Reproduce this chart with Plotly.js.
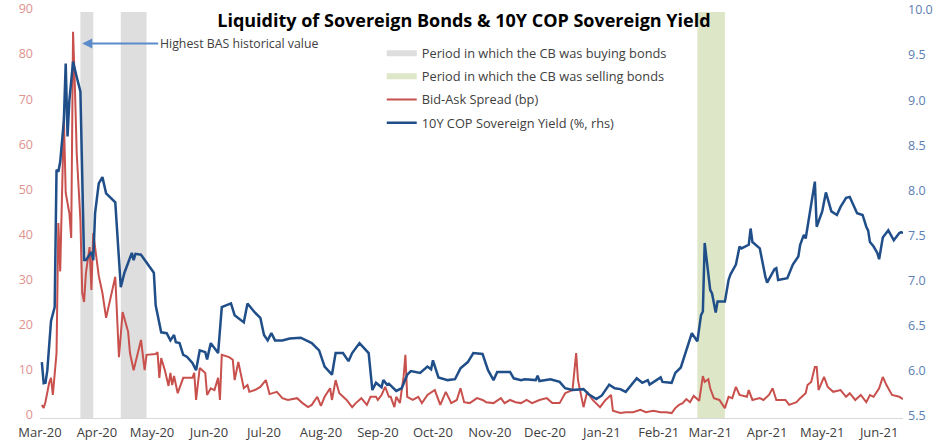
<!DOCTYPE html>
<html>
<head>
<meta charset="utf-8">
<script src="https://cdn.plot.ly/plotly-3.0.1.min.js"></script>
<style>html,body{margin:0;padding:0;background:#fff;}#chart{width:941px;height:445px;}</style>
</head>
<body>
<div id="chart"></div>
<script>
// ---- Data ----
const buyStart = ['2020-03-23', '2020-04-14'];
const buyEnd   = ['2020-03-30', '2020-04-28'];
const sellStart = ['2021-02-22'];
const sellEnd   = ['2021-03-09'];

const yieldDates = [
'2020-03-02','2020-03-03','2020-03-04','2020-03-05','2020-03-07','2020-03-09','2020-03-10','2020-03-11','2020-03-12','2020-03-14','2020-03-15','2020-03-16','2020-03-17','2020-03-19','2020-03-21','2020-03-23','2020-03-25','2020-03-26','2020-03-29','2020-03-30','2020-03-31',
'2020-04-02','2020-04-04','2020-04-06','2020-04-11','2020-04-14','2020-04-16','2020-04-20','2020-04-21','2020-04-22','2020-04-25','2020-04-28',
'2020-05-02','2020-05-03','2020-05-06','2020-05-09','2020-05-11','2020-05-13','2020-05-14','2020-05-16','2020-05-18','2020-05-20','2020-05-23','2020-05-25','2020-05-27','2020-05-30','2020-05-31',
'2020-06-02','2020-06-04','2020-06-06','2020-06-08','2020-06-11','2020-06-13','2020-06-15','2020-06-20','2020-06-22','2020-06-26','2020-06-29',
'2020-07-01','2020-07-03','2020-07-05','2020-07-07','2020-07-11','2020-07-15','2020-07-21','2020-07-27','2020-07-31',
'2020-08-03','2020-08-07','2020-08-09','2020-08-13','2020-08-16','2020-08-18','2020-08-22','2020-08-27','2020-08-29','2020-08-31',
'2020-09-03','2020-09-04','2020-09-06','2020-09-07','2020-09-11','2020-09-14','2020-09-17','2020-09-19','2020-09-24','2020-09-28','2020-09-30',
'2020-10-01','2020-10-04','2020-10-09','2020-10-13','2020-10-16','2020-10-20','2020-10-23','2020-10-28','2020-10-31',
'2020-11-03','2020-11-05','2020-11-09','2020-11-12','2020-11-14','2020-11-18','2020-11-20','2020-11-26','2020-11-27','2020-11-28',
'2020-12-04','2020-12-09','2020-12-12','2020-12-16','2020-12-22','2020-12-25','2020-12-29',
'2021-01-01','2021-01-05','2021-01-08','2021-01-11','2021-01-14','2021-01-20','2021-01-23','2021-01-26','2021-01-27',
'2021-02-02','2021-02-03','2021-02-08','2021-02-10','2021-02-13','2021-02-16','2021-02-19','2021-02-22','2021-02-24','2021-02-25','2021-02-26',
'2021-03-01','2021-03-02','2021-03-04','2021-03-05','2021-03-09','2021-03-11','2021-03-12','2021-03-15','2021-03-17','2021-03-18','2021-03-22','2021-03-23','2021-03-24','2021-03-28','2021-03-31',
'2021-04-01','2021-04-05','2021-04-06','2021-04-07','2021-04-12','2021-04-15','2021-04-18','2021-04-19','2021-04-21','2021-04-22','2021-04-24','2021-04-27','2021-04-28',
'2021-05-01','2021-05-03','2021-05-06','2021-05-09','2021-05-11','2021-05-14','2021-05-16','2021-05-20','2021-05-23','2021-05-25','2021-05-26','2021-05-27','2021-05-29','2021-05-31',
'2021-06-01','2021-06-03','2021-06-04','2021-06-06','2021-06-09','2021-06-12','2021-06-13','2021-06-14'
];
const yieldValues = [
6.12,5.885,5.89,6.03,6.575,6.73,8.25,8.23,8.34,8.80,9.43,8.62,9.02,9.45,9.28,9.12,7.25,7.25,7.34,7.25,7.77,
8.10,8.17,7.99,7.89,6.95,7.11,7.33,7.25,7.32,7.31,7.22,
7.11,6.75,6.45,6.44,6.36,6.42,6.34,6.33,6.20,6.18,6.11,6.03,6.25,6.23,6.15,
6.33,6.28,6.22,6.73,6.75,6.77,6.64,6.56,6.77,6.67,6.61,
6.42,6.36,6.44,6.36,6.36,6.38,6.39,6.33,6.25,
6.07,5.98,6.22,6.22,6.13,6.22,6.33,6.22,5.81,5.89,
5.84,5.92,5.87,5.88,5.80,5.83,5.98,6.02,6.00,6.07,6.04,
6.14,5.95,5.92,5.93,6.05,6.12,6.22,6.21,6.03,
5.92,6.01,6.01,6.01,5.94,5.92,5.93,5.92,5.97,5.91,
5.93,5.90,5.83,5.81,5.82,5.76,5.71,
5.75,5.87,5.83,5.82,5.79,5.94,5.89,5.92,5.87,
5.95,5.90,5.89,6.00,6.06,6.26,6.44,6.35,6.64,6.68,7.44,
6.92,6.88,6.67,6.79,6.79,7.03,7.09,7.20,7.40,7.38,7.42,7.60,7.45,7.38,7.07,
7.00,7.15,7.16,7.03,7.05,7.20,7.29,7.42,7.53,7.49,7.73,8.12,7.62,
7.79,8.00,7.79,7.75,7.84,7.94,7.95,7.77,7.75,7.62,7.58,7.45,7.40,7.33,
7.26,7.50,7.53,7.58,7.47,7.55,7.56,7.55
];

const basDates = [
'2020-03-02','2020-03-03','2020-03-04','2020-03-06','2020-03-07','2020-03-08','2020-03-10','2020-03-11','2020-03-12','2020-03-14','2020-03-15','2020-03-17','2020-03-18','2020-03-19','2020-03-20','2020-03-21','2020-03-23','2020-03-24','2020-03-25','2020-03-26','2020-03-28','2020-03-29','2020-03-30',
'2020-04-01','2020-04-02','2020-04-04','2020-04-06','2020-04-11','2020-04-13','2020-04-15','2020-04-18','2020-04-19','2020-04-21','2020-04-25','2020-04-27','2020-04-28',
'2020-05-03','2020-05-04','2020-05-05','2020-05-06','2020-05-08','2020-05-10','2020-05-11','2020-05-12','2020-05-13','2020-05-15','2020-05-18','2020-05-23','2020-05-24','2020-05-25','2020-05-27','2020-05-30','2020-05-31',
'2020-06-02','2020-06-04','2020-06-06','2020-06-07','2020-06-08','2020-06-12','2020-06-14','2020-06-15','2020-06-17','2020-06-20','2020-06-22','2020-06-23','2020-06-26','2020-06-29',
'2020-07-02','2020-07-04','2020-07-08','2020-07-11','2020-07-14','2020-07-19','2020-07-22','2020-07-25','2020-07-27','2020-07-30',
'2020-08-01','2020-08-03','2020-08-06','2020-08-07','2020-08-09','2020-08-11','2020-08-15','2020-08-18','2020-08-20','2020-08-23','2020-08-26','2020-08-28','2020-08-31',
'2020-09-01','2020-09-03','2020-09-05','2020-09-07','2020-09-08','2020-09-10','2020-09-11','2020-09-13','2020-09-15','2020-09-16','2020-09-17','2020-09-20','2020-09-23','2020-09-25','2020-09-28',
'2020-10-02','2020-10-05','2020-10-08','2020-10-11','2020-10-14','2020-10-16','2020-10-18','2020-10-21','2020-10-25','2020-10-28','2020-10-30',
'2020-11-03','2020-11-07','2020-11-09','2020-11-12','2020-11-15','2020-11-18','2020-11-21','2020-11-24','2020-11-28',
'2020-12-02','2020-12-05','2020-12-09','2020-12-12','2020-12-16','2020-12-18','2020-12-19','2020-12-22','2020-12-24','2020-12-27','2020-12-31',
'2021-01-03','2021-01-06','2021-01-07','2021-01-11','2021-01-14','2021-01-18','2021-01-22','2021-01-25','2021-01-29',
'2021-02-02','2021-02-05','2021-02-08','2021-02-10','2021-02-12','2021-02-14','2021-02-16','2021-02-18','2021-02-20','2021-02-23','2021-02-25','2021-02-26','2021-02-28',
'2021-03-01','2021-03-03','2021-03-06','2021-03-09','2021-03-11','2021-03-13','2021-03-15','2021-03-17','2021-03-21','2021-03-22','2021-03-24','2021-03-28','2021-03-30',
'2021-04-02','2021-04-04','2021-04-06','2021-04-11','2021-04-13','2021-04-17','2021-04-19','2021-04-22','2021-04-23','2021-04-25','2021-04-27','2021-04-28','2021-04-29',
'2021-05-02','2021-05-04','2021-05-07','2021-05-11','2021-05-14','2021-05-16','2021-05-19','2021-05-22','2021-05-25','2021-05-27','2021-05-29',
'2021-06-01','2021-06-03','2021-06-05','2021-06-08','2021-06-12','2021-06-14'
];
const basValues = [
2.9,2.2,3.6,7.8,8.9,5.1,14.4,43.2,32.5,66.7,49.9,45.4,39.9,85.6,73.4,58.7,43.9,27.7,25.7,32.1,37.9,28.4,41,
33.7,31.5,27.7,22.2,31.3,13.5,23.5,19.1,14.4,10.6,17.3,10.6,14,
14.2,14.6,8.9,13.3,10.6,7.1,10,7.3,9.3,5.5,8.9,8.9,10,4,11.1,10,5.1,
6.6,6.2,8.9,4,14,13.5,12.9,8.4,12.4,6.6,7.3,5.8,6.2,6.9,
8.4,5.3,5.8,4.4,4,4.4,3.3,2.4,2.9,4.7,
2.7,4.7,6.6,4,8.4,5.5,4,2.4,3.3,4.4,2.9,4.7,4.7,
4,5.1,6.9,4.7,4.7,2.4,4.7,3.3,9.1,14,4.7,4,4.7,3.3,5.1,
6.2,2.9,5.8,3.3,4,6.6,3.5,3.3,4.4,4,3.5,
3.3,4.4,3.3,4,3.5,3.3,4,3.3,4,
4.4,3.3,3.3,5.5,6.2,14.4,8.4,2.4,5.8,4,2.4,
4,5.1,1.6,1.1,1.3,1.3,1.8,1.3,1.6,
1.3,1.3,1.1,2.2,2.9,3.3,4.2,3.5,4.9,3.8,9.3,8,8.6,
6.6,4.4,4,2.2,4.7,4.4,6.9,5.1,4.7,6.2,4,4.4,4,
5.1,6.6,4,4,2.9,3.5,4.4,5.5,7.3,8,11.3,11.3,6.2,
9.1,6.9,5.8,6.2,4.7,5.5,4,5.1,3.5,5.1,4.7,
6.6,9.1,7.3,5.1,4.7,4.2
];

const leftRange = [0, 90];
const rightRange = [5.5, 10];
const xRange = ['2020-03-01', '2021-06-14'];

const peakDate = '2020-03-24';
const peakLabelLevel = 83;

// ---- Build traces ----
function bandPolygon(starts, ends, lo, hi) {
  const xs = [], ys = [];
  starts.forEach((s, i) => {
    if (i > 0) { xs.push(null); ys.push(null); }
    xs.push(s, s, ends[i], ends[i], s);
    ys.push(lo, hi, hi, lo, lo);
  });
  return {xs, ys};
}
const buyPoly = bandPolygon(buyStart, buyEnd, leftRange[0], leftRange[1]);
const sellPoly = bandPolygon(sellStart, sellEnd, leftRange[0], leftRange[1]);

const FONT = 'Open Sans, DejaVu Sans, sans-serif';

const traces = [
  {x: buyPoly.xs, y: buyPoly.ys, type: 'scatter', mode: 'none', fill: 'toself',
   fillcolor: '#DEDEDE', name: 'Period in which the CB was buying bonds', hoverinfo: 'skip', legendgroup: 'a'},
  {x: sellPoly.xs, y: sellPoly.ys, type: 'scatter', mode: 'none', fill: 'toself',
   fillcolor: '#DDE7C8', name: 'Period in which the CB was selling bonds', hoverinfo: 'skip', legendgroup: 'b'},
  {x: basDates, y: basValues, type: 'scatter', mode: 'lines', name: 'Bid-Ask Spread (bp)',
   line: {color: '#C8504D', width: 2}, legendgroup: 'c'},
  {x: yieldDates, y: yieldValues, type: 'scatter', mode: 'lines', name: '10Y COP Sovereign Yield (%, rhs)',
   yaxis: 'y2', line: {color: '#1F4E89', width: 2.5}, legendgroup: 'd'}
];

const layout = {
  width: 941, height: 445,
  margin: {l: 40, r: 38, t: 12, b: 27},
  paper_bgcolor: '#fff', plot_bgcolor: '#fff',
  font: {family: FONT, color: '#404040'},
  title: {text: '<b>Liquidity of Sovereign Bonds & 10Y COP Sovereign Yield</b>',
          font: {family: FONT, size: 18, color: '#000'},
          x: 0.493, xref: 'container', xanchor: 'center', y: 0.953, yref: 'container', yanchor: 'middle'},
  showlegend: true,
  legend: {x: 0.396, y: 0.935, xanchor: 'left', yanchor: 'top', bgcolor: 'rgba(0,0,0,0)',
           font: {family: FONT, size: 12.8, color: '#404040'}, traceorder: 'grouped', tracegroupgap: 3.5},
  xaxis: {type: 'date', range: xRange, tickformat: '%b-%y', dtick: 'M1', tick0: '2020-03-01',
          showgrid: false, zeroline: false, showline: true, linecolor: '#D9D9D9', linewidth: 1,
          ticks: '', ticklabelstandoff: 2, tickfont: {family: FONT, size: 13, color: '#404040'}, fixedrange: true},
  yaxis: {range: leftRange, dtick: 10, showgrid: false, zeroline: false, showline: false, ticks: '',
          tickfont: {family: FONT, size: 12.5, color: '#E0928E'}, ticklabelstandoff: 6, ticklabelshift: -3, fixedrange: true},
  yaxis2: {range: rightRange, dtick: 0.5, tickformat: '.1f', overlaying: 'y', side: 'right',
           showgrid: false, zeroline: false, showline: false, ticks: '',
           tickfont: {family: FONT, size: 12.5, color: '#5B7DB3'}, ticklabelstandoff: 4, ticklabelshift: -2, fixedrange: true},
  annotations: [{
    x: peakDate, y: peakLabelLevel, xref: 'x', yref: 'y',
    text: 'Highest BAS historical value', showarrow: true,
    ax: 76, ay: 0, xanchor: 'left', yanchor: 'middle',
    arrowhead: 2, arrowsize: 1, arrowwidth: 2, arrowcolor: '#5B8BC9', standoff: 0,
    font: {family: FONT, size: 12.3, color: '#404040'}
  }]
};

Plotly.newPlot('chart', traces, layout, {displayModeBar: false, staticPlot: true});
</script>
</body>
</html>
